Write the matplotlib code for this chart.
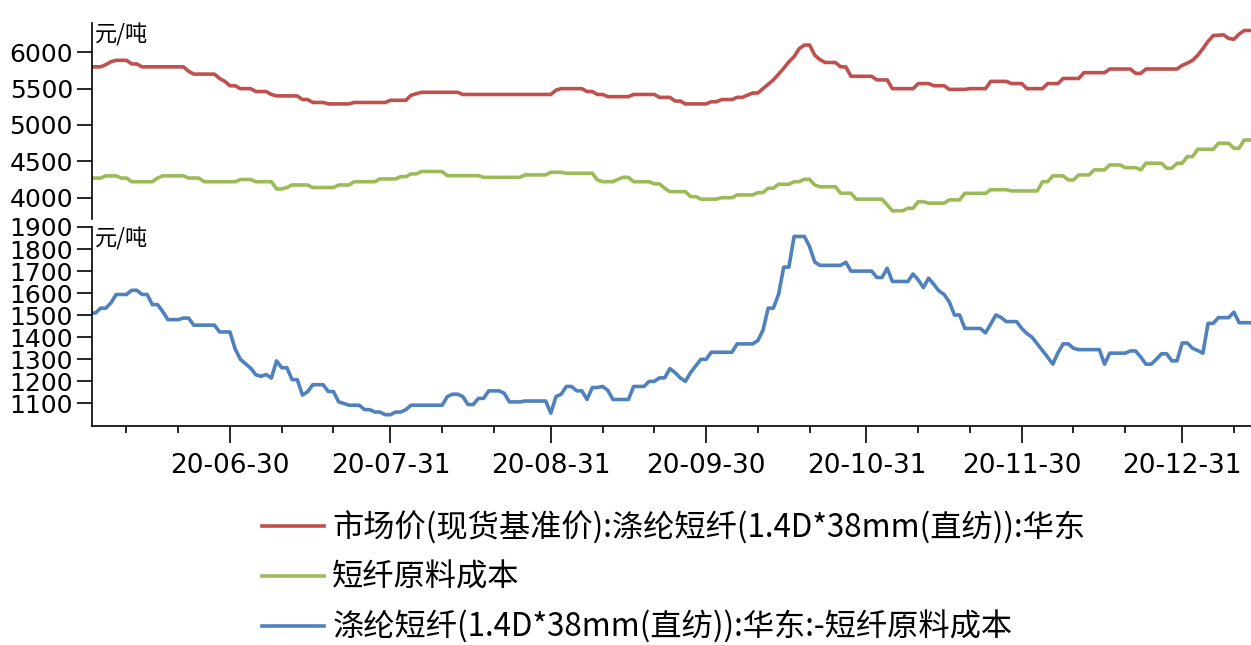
import matplotlib
matplotlib.use('Agg')
import matplotlib.pyplot as plt
import matplotlib.dates as mdates
from matplotlib import ticker
import pandas as pd

# ---- data (month-day, Jan = 2021) ----
red_days = ['06-03', '06-05', '06-06', '06-07', '06-08', '06-10', '06-11', '06-12', '06-13', '06-21',
            '06-22', '06-23', '06-27', '06-28', '06-29', '06-30', '07-01', '07-02', '07-04', '07-05',
            '07-07', '07-08', '07-09', '07-13', '07-14', '07-15', '07-16', '07-18', '07-19', '07-23',
            '07-24', '07-30', '07-31', '08-03', '08-04', '08-06', '08-13', '08-14', '08-31', '09-01',
            '09-02', '09-06', '09-07', '09-08', '09-09', '09-10', '09-11', '09-15', '09-16', '09-20',
            '09-21', '09-23', '09-24', '09-25', '09-26', '09-30', '10-01', '10-02', '10-03', '10-05',
            '10-06', '10-07', '10-08', '10-09', '10-10', '10-11', '10-12', '10-13', '10-14', '10-15',
            '10-16', '10-17', '10-18', '10-19', '10-20', '10-21', '10-22', '10-23', '10-25', '10-26',
            '10-27', '10-28', '11-01', '11-02', '11-04', '11-05', '11-09', '11-10', '11-12', '11-13',
            '11-15', '11-16', '11-19', '11-20', '11-23', '11-24', '11-27', '11-28', '11-30', '12-01',
            '12-04', '12-05', '12-07', '12-08', '12-11', '12-12', '12-16', '12-17', '12-21', '12-22',
            '12-23', '12-24', '12-30', '12-31', '01-01', '01-02', '01-03', '01-04', '01-05', '01-06',
            '01-08', '01-09', '01-10', '01-11', '01-12', '01-13']
red_vals = [5800, 5800, 5830, 5870, 5890, 5890, 5840, 5840, 5800, 5800,
            5740, 5700, 5700, 5640, 5600, 5540, 5540, 5500, 5500, 5460,
            5460, 5420, 5400, 5400, 5350, 5350, 5310, 5310, 5290, 5290,
            5310, 5310, 5340, 5340, 5410, 5450, 5450, 5420, 5420, 5480,
            5500, 5500, 5460, 5460, 5420, 5420, 5390, 5390, 5420, 5420,
            5380, 5380, 5330, 5330, 5290, 5290, 5320, 5320, 5350, 5350,
            5380, 5380, 5410, 5440, 5440, 5500, 5560, 5620, 5700, 5780,
            5870, 5940, 6050, 6100, 6100, 5960, 5900, 5860, 5860, 5800,
            5800, 5670, 5670, 5620, 5620, 5500, 5500, 5570, 5570, 5540,
            5540, 5490, 5490, 5500, 5500, 5600, 5600, 5570, 5570, 5500,
            5500, 5570, 5570, 5640, 5640, 5720, 5720, 5770, 5770, 5710,
            5710, 5770, 5770, 5820, 5850, 5890, 5960, 6050, 6150, 6230,
            6240, 6190, 6180, 6250, 6300, 6300]

green_days = ['06-03', '06-05', '06-06', '06-08', '06-09', '06-10', '06-11', '06-15', '06-16', '06-17',
              '06-21', '06-22', '06-24', '06-25', '07-01', '07-02', '07-04', '07-05', '07-08', '07-09',
              '07-10', '07-11', '07-12', '07-15', '07-16', '07-20', '07-21', '07-23', '07-24', '07-28',
              '07-29', '08-01', '08-02', '08-03', '08-04', '08-05', '08-06', '08-10', '08-11', '08-17',
              '08-18', '08-25', '08-26', '08-30', '08-31', '09-02', '09-03', '09-08', '09-09', '09-10',
              '09-12', '09-13', '09-14', '09-15', '09-16', '09-19', '09-20', '09-21', '09-22', '09-23',
              '09-26', '09-27', '09-28', '09-29', '10-02', '10-03', '10-05', '10-06', '10-09', '10-10',
              '10-11', '10-12', '10-13', '10-14', '10-16', '10-17', '10-18', '10-19', '10-20', '10-21',
              '10-22', '10-25', '10-26', '10-28', '10-29', '11-03', '11-04', '11-05', '11-07', '11-08',
              '11-09', '11-10', '11-11', '11-12', '11-15', '11-16', '11-18', '11-19', '11-23', '11-24',
              '11-27', '11-28', '12-03', '12-04', '12-05', '12-06', '12-08', '12-09', '12-10', '12-11',
              '12-13', '12-14', '12-16', '12-17', '12-19', '12-20', '12-22', '12-23', '12-24', '12-27',
              '12-28', '12-29', '12-30', '12-31', '01-01', '01-02', '01-03', '01-06', '01-07', '01-09',
              '01-10', '01-11', '01-12', '01-13']
green_vals = [4270, 4270, 4300, 4300, 4270, 4270, 4220, 4220, 4270, 4300,
              4300, 4270, 4270, 4220, 4220, 4250, 4250, 4220, 4220, 4120,
              4120, 4140, 4175, 4175, 4140, 4140, 4175, 4175, 4220, 4220,
              4258, 4258, 4290, 4290, 4327, 4327, 4360, 4360, 4303, 4303,
              4280, 4280, 4313, 4313, 4350, 4350, 4336, 4336, 4244, 4220,
              4220, 4254, 4280, 4280, 4220, 4220, 4190, 4190, 4130, 4083,
              4083, 4015, 4015, 3980, 3980, 4000, 4000, 4038, 4038, 4070,
              4070, 4130, 4130, 4185, 4185, 4220, 4220, 4254, 4254, 4175,
              4150, 4150, 4061, 4061, 3980, 3980, 3900, 3820, 3820, 3855,
              3855, 3945, 3945, 3925, 3925, 3970, 3970, 4060, 4060, 4110,
              4110, 4093, 4093, 4220, 4220, 4300, 4300, 4244, 4244, 4313,
              4313, 4382, 4382, 4450, 4450, 4413, 4413, 4382, 4474, 4474,
              4405, 4405, 4474, 4474, 4565, 4565, 4666, 4666, 4749, 4749,
              4680, 4680, 4794, 4794]

blue_days = ['06-03', '06-04', '06-05', '06-06', '06-07', '06-08', '06-10', '06-11', '06-12', '06-13',
             '06-14', '06-15', '06-16', '06-17', '06-18', '06-20', '06-21', '06-22', '06-23', '06-27',
             '06-28', '06-30', '07-01', '07-02', '07-04', '07-05', '07-06', '07-07', '07-08', '07-09',
             '07-10', '07-11', '07-12', '07-13', '07-14', '07-15', '07-16', '07-18', '07-19', '07-20',
             '07-21', '07-22', '07-23', '07-25', '07-26', '07-27', '07-28', '07-29', '07-30', '07-31',
             '08-01', '08-02', '08-03', '08-04', '08-10', '08-11', '08-12', '08-13', '08-14', '08-15',
             '08-16', '08-17', '08-18', '08-19', '08-21', '08-22', '08-23', '08-25', '08-26', '08-30',
             '08-31', '09-01', '09-02', '09-03', '09-04', '09-05', '09-06', '09-07', '09-08', '09-09',
             '09-10', '09-11', '09-12', '09-15', '09-16', '09-18', '09-19', '09-20', '09-21', '09-22',
             '09-23', '09-24', '09-25', '09-26', '09-27', '09-28', '09-29', '09-30', '10-01', '10-05',
             '10-06', '10-09', '10-10', '10-11', '10-12', '10-13', '10-14', '10-15', '10-16', '10-17',
             '10-19', '10-20', '10-21', '10-22', '10-26', '10-27', '10-28', '11-01', '11-02', '11-03',
             '11-04', '11-05', '11-08', '11-09', '11-10', '11-11', '11-12', '11-13', '11-14', '11-15',
             '11-16', '11-17', '11-18', '11-19', '11-22', '11-23', '11-24', '11-25', '11-26', '11-27',
             '11-29', '11-30', '12-01', '12-02', '12-03', '12-04', '12-05', '12-06', '12-07', '12-08',
             '12-09', '12-10', '12-11', '12-15', '12-16', '12-17', '12-20', '12-21', '12-22', '12-23',
             '12-24', '12-25', '12-26', '12-27', '12-28', '12-29', '12-30', '12-31', '01-01', '01-02',
             '01-03', '01-04', '01-05', '01-06', '01-07', '01-09', '01-10', '01-11', '01-13']
blue_vals = [1510, 1510, 1532, 1532, 1556, 1594, 1594, 1613, 1613, 1594,
             1594, 1548, 1548, 1517, 1480, 1480, 1487, 1487, 1455, 1455,
             1424, 1424, 1347, 1300, 1260, 1230, 1223, 1231, 1215, 1293,
             1262, 1262, 1208, 1208, 1138, 1153, 1185, 1185, 1154, 1154,
             1107, 1100, 1092, 1092, 1072, 1072, 1061, 1061, 1049, 1049,
             1061, 1061, 1072, 1092, 1092, 1131, 1142, 1142, 1131, 1095,
             1095, 1123, 1123, 1157, 1157, 1146, 1107, 1107, 1111, 1111,
             1056, 1131, 1142, 1177, 1177, 1157, 1157, 1118, 1172, 1172,
             1177, 1160, 1118, 1118, 1177, 1177, 1200, 1200, 1216, 1216,
             1258, 1240, 1216, 1200, 1240, 1270, 1300, 1300, 1332, 1332,
             1370, 1370, 1385, 1432, 1532, 1532, 1594, 1718, 1718, 1857,
             1857, 1811, 1741, 1726, 1726, 1740, 1700, 1700, 1671, 1671,
             1713, 1653, 1653, 1687, 1660, 1625, 1668, 1640, 1610, 1594,
             1560, 1501, 1501, 1440, 1440, 1420, 1460, 1501, 1490, 1471,
             1471, 1440, 1417, 1400, 1370, 1340, 1310, 1278, 1330, 1370,
             1370, 1350, 1344, 1344, 1278, 1328, 1328, 1338, 1338, 1310,
             1278, 1278, 1300, 1325, 1325, 1293, 1293, 1374, 1374, 1350,
             1340, 1328, 1463, 1463, 1489, 1489, 1514, 1466, 1466]

top_ticks = [4000, 4500, 5000, 5500, 6000]
bottom_ticks = [1100, 1200, 1300, 1400, 1500, 1600, 1700, 1800, 1900]
tick_days = ['06-30', '07-31', '08-31', '09-30', '10-31', '11-30', '12-31']

labels = ['市场价(现货基准价):涤纶短纤(1.4D*38mm(直纺)):华东',
          '短纤原料成本',
          '涤纶短纤(1.4D*38mm(直纺)):华东:-短纤原料成本']
colors = ['#C0504D', '#9BBB59', '#4F81BD']


def to_dates(days):
    return pd.to_datetime([('2021-' if d.startswith('01') else '2020-') + d for d in days])


# digits in DejaVu (closer width to the reference), CJK falls back to Noto
plt.rcParams['font.family'] = ['DejaVu Sans', 'Noto Sans CJK SC']
cjk = 'Noto Sans CJK SC'

fig = plt.figure(figsize=(12.51, 6.45), dpi=100)
ax1 = fig.add_axes([0.0738, 0.6597, 0.9262, 0.3043])
ax2 = fig.add_axes([0.0738, 0.3403, 0.9262, 0.3078], sharex=ax1)

lw = 2.6
l1, = ax1.plot(to_dates(red_days), red_vals, color=colors[0], lw=lw)
l2, = ax1.plot(to_dates(green_days), green_vals, color=colors[1], lw=lw)
l3, = ax2.plot(to_dates(blue_days), blue_vals, color=colors[2], lw=lw)

# x axis
base = mdates.date2num(pd.Timestamp('2020-06-30'))
ax2.set_xlim(base - 26.6, base + 197.3)
ax2.xaxis.set_major_locator(ticker.FixedLocator(mdates.date2num(to_dates(tick_days))))
ax2.xaxis.set_major_formatter(mdates.DateFormatter('%y-%m-%d'))
ax2.xaxis.set_minor_locator(mdates.DayLocator(bymonthday=[10, 20]))

ax1.set_ylim(3700, 6400)
ax1.set_yticks(top_ticks)
ax2.set_ylim(1000, 1900)
ax2.set_yticks(bottom_ticks)

for s in ['top', 'right', 'bottom']:
    ax1.spines[s].set_visible(False)
for s in ['top', 'right']:
    ax2.spines[s].set_visible(False)
for ax in (ax1, ax2):
    ax.spines['left'].set_linewidth(1.2)
    ax.tick_params(axis='y', length=11, width=1.2, labelsize=18, pad=3)
    ax.text(0.002, 1.0, '元/吨', transform=ax.transAxes, ha='left', va='top',
            fontsize=16, family=cjk)
ax2.spines['bottom'].set_linewidth(1.2)
ax1.tick_params(axis='x', which='both', bottom=False, labelbottom=False)
ax2.tick_params(axis='x', which='major', length=12, width=1.2, labelsize=19, pad=8)
ax2.tick_params(axis='x', which='minor', length=5, width=1.2)

fig.legend([l1, l2, l3], labels, loc='upper left', bbox_to_anchor=(0.2094, 0.2075),
           frameon=False, prop={'family': cjk, 'size': 22.5}, handlelength=2.0,
           handletextpad=0.25, labelspacing=0.55, borderpad=0, borderaxespad=0)

fig.savefig('out.png', dpi=100)
